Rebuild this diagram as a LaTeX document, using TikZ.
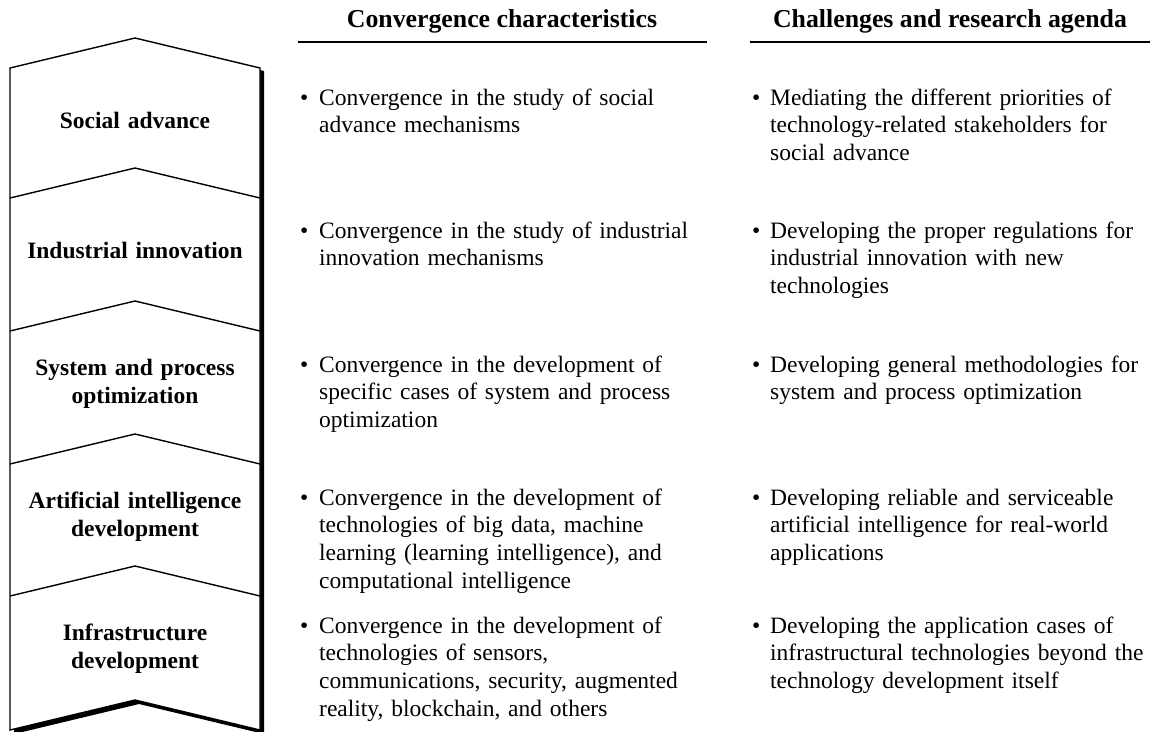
\documentclass[tikz,border=0pt]{standalone}
\usepackage{fontspec}
\setmainfont{Liberation Serif}
\begin{document}
\begin{tikzpicture}[x=1pt,y=-1pt,
  outline/.style={draw=black, line width=1.4pt, line join=miter},
  divider/.style={draw=black, line width=1.4pt, line join=miter},
  stagetext/.style={font=\bfseries\fontsize{23.5}{28.5}\selectfont, text width=245pt, align=center, anchor=base, inner sep=0pt},
  headtext/.style={font=\bfseries\fontsize{25.8}{28}\selectfont, anchor=base, inner sep=0pt},
  itemtext/.style={font=\fontsize{23.5}{27.8}\selectfont, text width=420pt, align=left, anchor=base west, inner sep=0pt},
  bulletmark/.style={font=\fontsize{23.5}{27.8}\selectfont, anchor=base west, inner sep=0pt},
  headrule/.style={draw=black, line width=1.8pt}]
\useasboundingbox (0,0) rectangle (1150,731);

% column of stages: drop shadow, white body, dividers
\fill[black] (14,71) -- (139,41) -- (264,71) -- (264,734) -- (139,704) -- (14,734) -- cycle;
\path[outline, fill=white] (10,68) -- (135,38) -- (260,68) -- (260,730) -- (135,700) -- (10,730) -- cycle;
\foreach \t in {168,301,434,566}{
  \draw[divider] (10,\t+30) -- (135,\t) -- (260,\t+30);
}

% stage names
\node[stagetext] (s1) at (135,128) {Social advance};
\node[stagetext] (s2) at (135,258) {Industrial innovation};
\node[stagetext] (s3) at (135,375) {System and process\\optimization};
\node[stagetext] (s4) at (135,508) {Artificial intelligence\\development};
\node[stagetext] (s5) at (135,640) {Infrastructure\\development};

% column headings
\node[headtext] (h1) at (502,27) {Convergence characteristics};
\node[headtext] (h2) at (950,27) {Challenges and research agenda};
\coordinate (h1a) at (298,42);
\coordinate (h1b) at (707,42);
\coordinate (h2a) at (750,42);
\coordinate (h2b) at (1150,42);
\draw[headrule] (h1a) -- (h1b);
\draw[headrule] (h2a) -- (h2b);

% convergence characteristics
\node[bulletmark] (b11) at (300,105) {\textbullet};
\node[itemtext] (c1) at (319,105) {Convergence in the study of social\\advance mechanisms};
\node[bulletmark] (b12) at (300,238) {\textbullet};
\node[itemtext] (c2) at (319,238) {Convergence in the study of industrial\\innovation mechanisms};
\node[bulletmark] (b13) at (300,372) {\textbullet};
\node[itemtext] (c3) at (319,372) {Convergence in the development of\\specific cases of system and process\\optimization};
\node[bulletmark] (b14) at (300,505) {\textbullet};
\node[itemtext] (c4) at (319,505) {Convergence in the development of\\technologies of big data, machine\\learning (learning intelligence), and\\computational intelligence};
\node[bulletmark] (b15) at (300,633) {\textbullet};
\node[itemtext] (c5) at (319,633) {Convergence in the development of\\technologies of sensors,\\communications, security, augmented\\reality, blockchain, and others};

% challenges and research agenda
\node[bulletmark] (b21) at (752,105) {\textbullet};
\node[itemtext] (r1) at (770,105) {Mediating the different priorities of\\technology-related stakeholders for\\social advance};
\node[bulletmark] (b22) at (752,238) {\textbullet};
\node[itemtext] (r2) at (770,238) {Developing the proper regulations for\\industrial innovation with new\\technologies};
\node[bulletmark] (b23) at (752,372) {\textbullet};
\node[itemtext] (r3) at (770,372) {Developing general methodologies for\\system and process optimization};
\node[bulletmark] (b24) at (752,505) {\textbullet};
\node[itemtext] (r4) at (770,505) {Developing reliable and serviceable\\artificial intelligence for real-world\\applications};
\node[bulletmark] (b25) at (752,633) {\textbullet};
\node[itemtext] (r5) at (770,633) {Developing the application cases of\\infrastructural technologies beyond the\\technology development itself};
\end{tikzpicture}
\end{document}
